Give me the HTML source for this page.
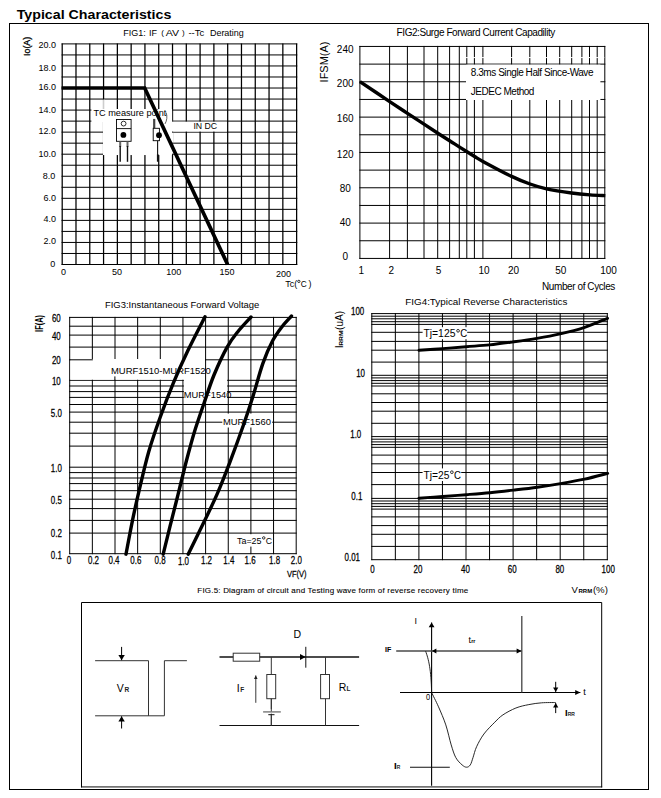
<!DOCTYPE html>
<html><head><meta charset="utf-8"><title>Typical Characteristics</title>
<style>
html,body{margin:0;padding:0;background:#fff;}
body{width:661px;height:798px;overflow:hidden;font-family:"Liberation Sans",sans-serif;}
svg{display:block;font-family:"Liberation Sans",sans-serif;}
</style></head><body>
<svg width="661" height="798" viewBox="0 0 661 798">
<rect x="0" y="0" width="661" height="798" fill="#fff"/>
<text transform="translate(16.70,18.80) scale(1.0467,1)" font-size="13.6" font-weight="bold" fill="#000">Typical Characteristics</text>
<rect x="9.50" y="23.50" width="639.00" height="766.00" fill="none" stroke="#000" stroke-width="1"/>
<path d="M62.20 43.40V265.00M75.99 43.40V265.00M89.78 43.40V265.00M103.57 43.40V265.00M117.36 43.40V265.00M131.15 43.40V265.00M144.94 43.40V265.00M158.73 43.40V265.00M172.52 43.40V265.00M186.31 43.40V265.00M200.10 43.40V265.00M213.89 43.40V265.00M227.68 43.40V265.00M241.47 43.40V265.00M255.26 43.40V265.00M269.05 43.40V265.00M282.84 43.40V265.00M296.63 43.40V265.00" stroke="#000" stroke-width="1.25" fill="none"/>
<path d="M61.58 43.90H297.25M61.58 54.93H297.25M61.58 65.96H297.25M61.58 76.99H297.25M61.58 88.02H297.25M61.58 99.05H297.25M61.58 110.08H297.25M61.58 121.11H297.25M61.58 132.14H297.25M61.58 143.17H297.25M61.58 154.20H297.25M61.58 165.23H297.25M61.58 176.26H297.25M61.58 187.29H297.25M61.58 198.32H297.25M61.58 209.35H297.25M61.58 220.38H297.25M61.58 231.41H297.25M61.58 242.44H297.25M61.58 253.47H297.25M61.58 264.50H297.25" stroke="#000" stroke-width="1.0" fill="none"/>
<rect x="91.40" y="109.00" width="80.70" height="13.05" fill="#fff" stroke="none" stroke-width="1"/>
<rect x="103.20" y="99.60" width="1.50" height="9.50" fill="#fff" stroke="none" stroke-width="1"/>
<rect x="103.00" y="111.00" width="69.10" height="44.05" fill="#fff" stroke="none" stroke-width="1"/>
<rect x="172.00" y="132.70" width="1.40" height="9.90" fill="#fff" stroke="none" stroke-width="1"/>
<rect x="172.00" y="143.70" width="1.40" height="10.00" fill="#fff" stroke="none" stroke-width="1"/>
<rect x="171.90" y="121.70" width="55.00" height="9.85" fill="#fff" stroke="none" stroke-width="1"/>
<rect x="116.50" y="119.50" width="14.60" height="21.80" fill="#fff" stroke="#000" stroke-width="0.9"/>
<line x1="116.50" y1="128.60" x2="131.10" y2="128.60" stroke="#000" stroke-width="0.9"/>
<circle cx="123.6" cy="123.6" r="2.4" fill="none" stroke="#000" stroke-width="0.8"/>
<circle cx="123.4" cy="134.9" r="2.9" fill="#000"/>
<line x1="120.20" y1="141.60" x2="120.20" y2="147.00" stroke="#666" stroke-width="2.0"/>
<line x1="127.50" y1="141.60" x2="127.50" y2="147.00" stroke="#666" stroke-width="2.0"/>
<line x1="120.20" y1="146.00" x2="120.20" y2="161.80" stroke="#111" stroke-width="1.4"/>
<line x1="127.50" y1="146.00" x2="127.50" y2="161.80" stroke="#111" stroke-width="1.4"/>
<line x1="154.20" y1="118.90" x2="154.20" y2="128.20" stroke="#444" stroke-width="2.2"/>
<rect x="153.20" y="128.30" width="6.20" height="12.40" fill="#fff" stroke="#000" stroke-width="0.9"/>
<circle cx="159.0" cy="135.2" r="2.9" fill="#000"/>
<line x1="157.60" y1="140.70" x2="157.60" y2="161.50" stroke="#111" stroke-width="1.1"/>
<line x1="157.80" y1="154.40" x2="157.80" y2="161.50" stroke="#111" stroke-width="1.8"/>
<path d="M166.2 112.6 C167.4 116.5 167.0 120.5 165.0 123.9" stroke="#222" stroke-width="0.7" fill="none"/>
<path d="M61.60 88.0 H144.7 L227.6 264.5" stroke="#000" stroke-width="3.7" fill="none" stroke-linejoin="miter" stroke-linecap="butt"/>
<text transform="translate(123.30,35.60) scale(1.0000,1)" font-size="9" fill="#000">FIG1:</text>
<text transform="translate(149.10,35.60) scale(1.0000,1)" font-size="9" fill="#000">IF</text>
<text transform="translate(161.20,35.20) scale(1.0000,1)" font-size="8" fill="#000">(</text>
<text transform="translate(165.70,35.60) scale(1.1817,1)" font-size="9" fill="#000">AV</text>
<text transform="translate(181.90,35.20) scale(1.0000,1)" font-size="8" fill="#000">)</text>
<text transform="translate(188.40,35.60) scale(1.0544,1)" font-size="9" fill="#000">--Tc</text>
<text transform="translate(209.90,35.60) scale(0.9994,1)" font-size="9" fill="#000">Derating</text>
<text transform="translate(29.60,56.00) rotate(-90) scale(0.9854,1)" font-size="9" stroke="#000" stroke-width="0.3" fill="#000">Io(A)</text>
<text transform="translate(38.59,47.80) scale(1.0000,1)" font-size="9" fill="#000">20.0</text>
<text transform="translate(38.59,70.80) scale(1.0000,1)" font-size="9" fill="#000">18.0</text>
<text transform="translate(38.59,89.60) scale(1.0000,1)" font-size="9" fill="#000">16.0</text>
<text transform="translate(38.59,112.90) scale(1.0000,1)" font-size="9" fill="#000">14.0</text>
<text transform="translate(38.59,134.00) scale(1.0000,1)" font-size="9" fill="#000">12.0</text>
<text transform="translate(38.59,156.50) scale(1.0000,1)" font-size="9" fill="#000">10.0</text>
<text transform="translate(42.79,178.80) scale(1.0000,1)" font-size="9" fill="#000">8.0</text>
<text transform="translate(43.59,200.60) scale(1.0000,1)" font-size="9" fill="#000">6.0</text>
<text transform="translate(43.59,222.40) scale(1.0000,1)" font-size="9" fill="#000">4.0</text>
<text transform="translate(43.59,243.80) scale(1.0000,1)" font-size="9" fill="#000">2.0</text>
<text transform="translate(50.30,266.50) scale(1.0000,1)" font-size="9" fill="#000">0</text>
<text transform="translate(61.10,274.80) scale(1.0000,1)" font-size="9" fill="#000">0</text>
<text transform="translate(112.00,274.80) scale(1.0000,1)" font-size="9" fill="#000">50</text>
<text transform="translate(166.19,274.80) scale(1.0000,1)" font-size="9" fill="#000">100</text>
<text transform="translate(219.49,274.80) scale(1.0000,1)" font-size="9" fill="#000">150</text>
<text transform="translate(275.99,277.00) scale(1.0000,1)" font-size="9" fill="#000">200</text>
<text transform="translate(285.20,286.80) scale(1.0000,1)" font-size="9" fill="#000">Tc(</text>
<circle cx="298.87" cy="281.40" r="1.17" fill="none" stroke="#000" stroke-width="0.8"/>
<text transform="translate(300.74,286.80) scale(0.9200,1)" font-size="9" fill="#000">C</text>
<text transform="translate(308.40,286.80) scale(1.0000,1)" font-size="9" fill="#000">)</text>
<text transform="translate(93.40,115.60) scale(1.0203,1)" font-size="9" fill="#000">TC measure point</text>
<text transform="translate(193.40,129.30) scale(0.9722,1)" font-size="9" fill="#000">IN DC</text>
<path d="M359.90 45.95V258.93M389.60 45.95V258.93M407.40 45.95V258.93M424.00 45.95V258.93M437.70 45.95V258.93M449.60 45.95V258.93M459.30 45.95V258.93M466.80 45.95V258.93M474.40 45.95V258.93M482.90 45.95V258.93M511.60 45.95V258.93M529.80 45.95V258.93M546.50 45.95V258.93M559.70 45.95V258.93M571.70 45.95V258.93M581.90 45.95V258.93M589.50 45.95V258.93M597.20 45.95V258.93M604.80 45.95V258.93" stroke="#000" stroke-width="1.0" fill="none"/>
<path d="M359.40 46.45H605.30M359.40 64.12H605.30M359.40 81.78H605.30M359.40 99.44H605.30M359.40 117.11H605.30M359.40 134.77H605.30M359.40 152.44H605.30M359.40 170.11H605.30M359.40 187.77H605.30M359.40 205.44H605.30M359.40 223.10H605.30M359.40 240.76H605.30M359.40 258.43H605.30" stroke="#000" stroke-width="1.0" fill="none"/>
<line x1="466.00" y1="57.60" x2="604.30" y2="57.60" stroke="#fff" stroke-width="1.0"/>
<rect x="466.00" y="64.60" width="134.40" height="35.40" fill="#fff" stroke="none" stroke-width="1"/>
<path d="M359.90 81.60C364.87 84.93 381.77 96.30 389.70 101.60C397.63 106.90 401.78 109.63 407.50 113.40C413.22 117.17 418.95 120.90 424.00 124.20C429.05 127.50 433.40 130.37 437.80 133.20C442.20 136.03 446.63 138.80 450.40 141.20C454.17 143.60 456.43 145.10 460.40 147.60C464.37 150.10 470.45 153.90 474.20 156.20C477.95 158.50 476.67 158.03 482.90 161.40C489.13 164.77 503.75 172.63 511.60 176.40C519.45 180.17 524.18 181.93 530.00 184.00C535.82 186.07 539.57 187.30 546.50 188.80C553.43 190.30 564.35 191.98 571.60 193.00C578.85 194.02 584.38 194.47 590.00 194.90C595.62 195.33 602.75 195.48 605.30 195.60" stroke="#000" stroke-width="3.4" fill="none" stroke-linecap="butt"/>
<text x="396.60" y="35.60" font-size="10" fill="#000" letter-spacing="-0.424">FIG2:Surge Forward Current Capadility</text>
<text transform="translate(327.60,82.40) rotate(-90) scale(1.0968,1)" font-size="10" fill="#000">IFSM(A)</text>
<text transform="translate(336.85,53.30) scale(1.0000,1)" font-size="10" fill="#000">240</text>
<text transform="translate(336.85,87.20) scale(1.0000,1)" font-size="10" fill="#000">200</text>
<text transform="translate(336.85,121.60) scale(1.0000,1)" font-size="10" fill="#000">160</text>
<text transform="translate(336.85,157.70) scale(1.0000,1)" font-size="10" fill="#000">120</text>
<text transform="translate(339.65,191.50) scale(1.0000,1)" font-size="10" fill="#000">80</text>
<text transform="translate(339.65,225.80) scale(1.0000,1)" font-size="10" fill="#000">40</text>
<text transform="translate(342.43,259.70) scale(1.0000,1)" font-size="10" fill="#000">0</text>
<text transform="translate(358.43,273.70) scale(1.0000,1)" font-size="10" fill="#000">1</text>
<text transform="translate(388.43,273.70) scale(1.0000,1)" font-size="10" fill="#000">2</text>
<text transform="translate(435.83,273.70) scale(1.0000,1)" font-size="10" fill="#000">5</text>
<text transform="translate(478.45,273.70) scale(1.0000,1)" font-size="10" fill="#000">10</text>
<text transform="translate(508.05,273.70) scale(1.0000,1)" font-size="10" fill="#000">20</text>
<text transform="translate(555.25,273.70) scale(1.0000,1)" font-size="10" fill="#000">50</text>
<text transform="translate(600.25,273.70) scale(1.0000,1)" font-size="10" fill="#000">100</text>
<text x="542.00" y="289.60" font-size="10" fill="#000" letter-spacing="-0.410">Number of Cycles</text>
<text x="470.80" y="76.30" font-size="10" fill="#000" letter-spacing="-0.444">8.3ms Single Half Since-Wave</text>
<text x="470.80" y="94.50" font-size="10" fill="#000" letter-spacing="-0.482">JEDEC Method</text>
<path d="M69.70 316.90V554.20M92.35 316.90V554.20M115.00 316.90V554.20M137.65 316.90V554.20M160.30 316.90V554.20M182.95 316.90V554.20M205.60 316.90V554.20M228.25 316.90V554.20M250.90 316.90V554.20M273.55 316.90V554.20M296.20 316.90V554.20" stroke="#000" stroke-width="1.0" fill="none"/>
<path d="M69.20 317.40H296.70M69.20 326.20H296.70M69.20 335.10H296.70M69.20 347.10H296.70M69.20 359.80H296.70M69.20 380.30H296.70M69.20 386.00H296.70M69.20 391.60H296.70M69.20 397.40H296.70M69.20 404.50H296.70M69.20 412.10H296.70M69.20 422.20H296.70M69.20 433.20H296.70M69.20 446.10H296.70M69.20 467.20H296.70M69.20 472.60H296.70M69.20 478.00H296.70M69.20 483.60H296.70M69.20 490.70H296.70M69.20 499.20H296.70M69.20 508.60H296.70M69.20 520.40H296.70M69.20 533.10H296.70M69.20 553.70H296.70" stroke="#000" stroke-width="1.0" fill="none"/>
<rect x="70.40" y="359.00" width="134.60" height="20.70" fill="#fff" stroke="none" stroke-width="1"/>
<line x1="69.70" y1="359.80" x2="92.85" y2="359.80" stroke="#000" stroke-width="1"/>
<rect x="183.90" y="379.00" width="43.20" height="21.80" fill="#fff" stroke="none" stroke-width="1"/>
<line x1="205.60" y1="379.00" x2="205.60" y2="401.00" stroke="#000" stroke-width="1"/>
<line x1="114.90" y1="376.40" x2="114.90" y2="380.00" stroke="#000" stroke-width="1"/>
<rect x="222.30" y="413.60" width="49.80" height="13.90" fill="#fff" stroke="none" stroke-width="1"/>
<rect x="235.40" y="534.20" width="37.60" height="12.40" fill="#fff" stroke="none" stroke-width="1"/>
<path d="M126.00 554.20C127.10 548.48 130.42 530.50 132.60 519.90C134.78 509.30 136.40 502.00 139.10 490.60C141.80 479.20 145.28 463.72 148.80 451.50C152.32 439.28 156.12 428.68 160.20 417.30C164.28 405.92 168.68 394.32 173.30 383.20C177.92 372.08 182.62 361.67 187.90 350.60C193.18 339.53 202.15 322.43 205.00 316.80" stroke="#000" stroke-width="3.4" fill="none" stroke-linecap="round"/>
<path d="M163.20 554.20C164.33 549.57 167.50 536.45 170.00 526.40C172.50 516.35 175.48 504.75 178.20 493.90C180.92 483.05 183.60 471.62 186.30 461.30C189.00 450.98 191.42 441.77 194.40 432.00C197.38 422.23 200.93 412.20 204.20 402.70C207.47 393.20 210.20 384.23 214.00 375.00C217.80 365.77 222.93 354.63 227.00 347.30C231.07 339.97 234.40 336.05 238.40 331.00C242.40 325.95 248.90 319.33 251.00 317.00" stroke="#000" stroke-width="3.4" fill="none" stroke-linecap="round"/>
<path d="M188.20 554.20C190.87 548.75 199.37 531.55 204.20 521.50C209.03 511.45 212.87 503.93 217.20 493.90C221.53 483.87 225.85 472.70 230.20 461.30C234.55 449.90 239.50 436.35 243.30 425.50C247.10 414.65 249.75 406.52 253.00 396.20C256.25 385.88 259.53 372.83 262.80 363.60C266.07 354.37 269.33 347.03 272.60 340.80C275.87 334.57 279.25 330.33 282.40 326.20C285.55 322.07 289.98 317.70 291.50 316.00" stroke="#000" stroke-width="3.4" fill="none" stroke-linecap="round"/>
<text transform="translate(104.90,307.50) scale(0.9956,1)" font-size="9.5" fill="#000">FIG3:Instantaneous Forward Voltage</text>
<text transform="translate(42.50,331.90) rotate(-90) scale(0.7117,1)" font-size="10.5" font-weight="bold" fill="#000">IF(A)</text>
<text transform="translate(51.88,322.10) scale(0.7800,1)" font-size="10.2" fill="#000" stroke="#000" stroke-width="0.25">60</text>
<text transform="translate(51.88,340.10) scale(0.7800,1)" font-size="10.2" fill="#000" stroke="#000" stroke-width="0.25">40</text>
<text transform="translate(51.88,364.30) scale(0.7800,1)" font-size="10.2" fill="#000" stroke="#000" stroke-width="0.25">20</text>
<text transform="translate(51.88,384.80) scale(0.7800,1)" font-size="10.2" fill="#000" stroke="#000" stroke-width="0.25">10</text>
<text transform="translate(50.87,471.90) scale(0.7800,1)" font-size="10.2" fill="#000" stroke="#000" stroke-width="0.25">1.0</text>
<text transform="translate(50.87,503.70) scale(0.7800,1)" font-size="10.2" fill="#000" stroke="#000" stroke-width="0.25">0.5</text>
<text transform="translate(50.87,536.90) scale(0.7800,1)" font-size="10.2" fill="#000" stroke="#000" stroke-width="0.25">0.2</text>
<text transform="translate(50.87,558.60) scale(0.7800,1)" font-size="10.2" fill="#000" stroke="#000" stroke-width="0.25">0.1</text>
<text transform="translate(50.87,416.60) scale(0.7800,1)" font-size="10.2" fill="#000" stroke="#000" stroke-width="0.25">5.0</text>
<text transform="translate(66.79,564.30) scale(0.7800,1)" font-size="10.2" fill="#000" stroke="#000" stroke-width="0.25">0</text>
<text transform="translate(87.97,564.30) scale(0.7800,1)" font-size="10.2" fill="#000" stroke="#000" stroke-width="0.25">0.2</text>
<text transform="translate(108.47,564.30) scale(0.7800,1)" font-size="10.2" fill="#000" stroke="#000" stroke-width="0.25">0.4</text>
<text transform="translate(130.37,564.30) scale(0.7800,1)" font-size="10.2" fill="#000" stroke="#000" stroke-width="0.25">0.6</text>
<text transform="translate(154.57,564.30) scale(0.7800,1)" font-size="10.2" fill="#000" stroke="#000" stroke-width="0.25">0.8</text>
<text transform="translate(177.97,565.00) scale(0.7800,1)" font-size="10.2" fill="#000" stroke="#000" stroke-width="0.25">1.0</text>
<text transform="translate(200.97,564.30) scale(0.7800,1)" font-size="10.2" fill="#000" stroke="#000" stroke-width="0.25">1.2</text>
<text transform="translate(223.37,564.30) scale(0.7800,1)" font-size="10.2" fill="#000" stroke="#000" stroke-width="0.25">1.4</text>
<text transform="translate(244.57,564.30) scale(0.7800,1)" font-size="10.2" fill="#000" stroke="#000" stroke-width="0.25">1.6</text>
<text transform="translate(269.07,564.30) scale(0.7800,1)" font-size="10.2" fill="#000" stroke="#000" stroke-width="0.25">1.8</text>
<text transform="translate(290.77,564.30) scale(0.7800,1)" font-size="10.2" fill="#000" stroke="#000" stroke-width="0.25">2.0</text>
<text transform="translate(286.90,577.30) scale(0.7945,1)" font-size="9.5" fill="#000" stroke="#000" stroke-width="0.25">VF(V)</text>
<text transform="translate(111.00,373.80) scale(0.9968,1)" font-size="9.5" fill="#000">MURF1510-MURF1520</text>
<text transform="translate(183.80,397.60) scale(0.9816,1)" font-size="9.5" fill="#000">MURF1540</text>
<text transform="translate(222.90,424.50) scale(0.9878,1)" font-size="9.5" fill="#000">MURF1560</text>
<text transform="translate(237.00,543.60) scale(0.9361,1)" font-size="9.5" fill="#000">Ta=25</text>
<circle cx="263.74" cy="537.90" r="1.24" fill="none" stroke="#000" stroke-width="0.8"/>
<text transform="translate(265.67,543.60) scale(0.9200,1)" font-size="9.5" fill="#000">C</text>
<path d="M371.80 313.10V560.20M395.35 313.10V560.20M418.90 313.10V560.20M442.45 313.10V560.20M466.00 313.10V560.20M489.55 313.10V560.20M513.10 313.10V560.20M536.65 313.10V560.20M560.20 313.10V560.20M583.75 313.10V560.20M607.30 313.10V560.20" stroke="#000" stroke-width="1.0" fill="none"/>
<path d="M371.30 313.60H607.80M371.30 316.20H607.80M371.30 318.80H607.80M371.30 321.70H607.80M371.30 324.40H607.80M371.30 332.30H607.80M371.30 341.40H607.80M371.30 350.20H607.80M371.30 362.10H607.80M371.30 375.30H607.80M371.30 377.90H607.80M371.30 380.60H607.80M371.30 383.30H607.80M371.30 386.00H607.80M371.30 393.80H607.80M371.30 402.50H607.80M371.30 411.20H607.80M371.30 423.30H607.80M371.30 436.60H607.80M371.30 439.20H607.80M371.30 441.90H607.80M371.30 444.60H607.80M371.30 447.30H607.80M371.30 455.10H607.80M371.30 463.80H607.80M371.30 472.50H607.80M371.30 484.60H607.80M371.30 498.40H607.80M371.30 501.00H607.80M371.30 503.70H607.80M371.30 506.40H607.80M371.30 509.10H607.80M371.30 516.90H607.80M371.30 525.60H607.80M371.30 534.30H607.80M371.30 546.40H607.80M371.30 559.70H607.80" stroke="#000" stroke-width="1.0" fill="none"/>
<rect x="422.60" y="327.20" width="44.60" height="12.00" fill="#fff" stroke="none" stroke-width="1"/>
<rect x="422.60" y="468.40" width="38.60" height="12.60" fill="#fff" stroke="none" stroke-width="1"/>
<path d="M419.00 350.30C422.95 350.02 434.82 349.20 442.70 348.60C450.58 348.00 458.50 347.32 466.30 346.70C474.10 346.08 481.70 345.70 489.50 344.90C497.30 344.10 505.20 342.98 513.10 341.90C521.00 340.82 529.05 339.73 536.90 338.40C544.75 337.07 552.35 335.70 560.20 333.90C568.05 332.10 576.12 330.20 584.00 327.60C591.88 325.00 603.58 319.85 607.50 318.30" stroke="#000" stroke-width="2.9" fill="none" stroke-linecap="round"/>
<path d="M418.90 498.30C422.88 498.00 434.88 497.10 442.80 496.50C450.72 495.90 458.53 495.33 466.40 494.70C474.27 494.07 482.12 493.47 490.00 492.70C497.88 491.93 505.82 491.02 513.70 490.10C521.58 489.18 529.50 488.28 537.30 487.20C545.10 486.12 552.63 484.93 560.50 483.60C568.37 482.27 576.63 480.90 584.50 479.20C592.37 477.50 603.83 474.37 607.70 473.40" stroke="#000" stroke-width="2.9" fill="none" stroke-linecap="round"/>
<text transform="translate(405.30,304.50) scale(1.0357,1)" font-size="9.5" fill="#000">FIG4:Typical Reverse Characteristics</text>
<text transform="translate(351.01,314.80) scale(0.7800,1)" font-size="10.2" fill="#000" stroke="#000" stroke-width="0.25">100</text>
<text transform="translate(356.17,376.90) scale(0.7800,1)" font-size="10.2" fill="#000" stroke="#000" stroke-width="0.25">10</text>
<text transform="translate(350.24,437.80) scale(0.7800,1)" font-size="10.2" fill="#000" stroke="#000" stroke-width="0.25">1.0</text>
<text transform="translate(351.34,500.00) scale(0.7800,1)" font-size="10.2" fill="#000" stroke="#000" stroke-width="0.25">0.1</text>
<text transform="translate(344.53,560.90) scale(0.7800,1)" font-size="10.2" fill="#000" stroke="#000" stroke-width="0.25">0.01</text>
<text transform="translate(370.29,573.40) scale(0.7800,1)" font-size="10.2" fill="#000" stroke="#000" stroke-width="0.25">0</text>
<text transform="translate(413.58,573.40) scale(0.7800,1)" font-size="10.2" fill="#000" stroke="#000" stroke-width="0.25">20</text>
<text transform="translate(460.98,573.40) scale(0.7800,1)" font-size="10.2" fill="#000" stroke="#000" stroke-width="0.25">40</text>
<text transform="translate(507.78,573.40) scale(0.7800,1)" font-size="10.2" fill="#000" stroke="#000" stroke-width="0.25">60</text>
<text transform="translate(555.38,573.40) scale(0.7800,1)" font-size="10.2" fill="#000" stroke="#000" stroke-width="0.25">80</text>
<text transform="translate(601.56,573.40) scale(0.7800,1)" font-size="10.2" fill="#000" stroke="#000" stroke-width="0.25">100</text>
<text transform="translate(342.80,348.20) rotate(-90) scale(1.0000,1)" font-size="10.7" fill="#000">I</text>
<text transform="translate(342.80,345.80) rotate(-90) scale(1.1282,1)" font-size="6" font-weight="bold" fill="#000">RRM</text>
<text transform="translate(342.80,329.90) rotate(-90) scale(0.9524,1)" font-size="10.5" fill="#000">(uA)</text>
<text transform="translate(423.40,337.10) scale(0.9910,1)" font-size="10.5" fill="#000">Tj=125</text>
<circle cx="458.06" cy="330.80" r="1.36" fill="none" stroke="#000" stroke-width="0.8"/>
<text transform="translate(460.13,337.10) scale(0.9200,1)" font-size="10.5" fill="#000">C</text>
<text transform="translate(423.40,478.50) scale(0.9787,1)" font-size="10.5" fill="#000">Tj=25</text>
<circle cx="451.87" cy="472.20" r="1.36" fill="none" stroke="#000" stroke-width="0.8"/>
<text transform="translate(453.93,478.50) scale(0.9200,1)" font-size="10.5" fill="#000">C</text>
<text transform="translate(571.40,592.50) scale(1.0000,1)" font-size="9.5" fill="#000">V</text>
<text transform="translate(578.50,592.50) scale(0.9713,1)" font-size="6.2" font-weight="bold" fill="#000">RRM</text>
<text transform="translate(592.90,592.50) scale(1.0154,1)" font-size="9.5" fill="#000">(%)</text>
<text x="197.30" y="593.00" font-size="8" fill="#000" letter-spacing="0.198" stroke="#000" stroke-width="0.1">FIG.5: Diagram of circuit and Testing wave form of reverse recovery time</text>
<line x1="81.00" y1="786.80" x2="602.20" y2="786.80" stroke="#747474" stroke-width="1.8"/>
<path d="M81.5 787.4V602.5H601.7V787.4" stroke="#000" stroke-width="1.0" fill="none"/>
<path d="M95.1 660.7H148.5V715.8M95.1 715.8H164.4V660.7H186.9" stroke="#333" stroke-width="1.0" fill="none"/>
<line x1="121.60" y1="646.90" x2="121.60" y2="660.20" stroke="#000" stroke-width="1.0"/>
<path d="M118.40 654.90L124.80 654.90L121.60 660.20Z" fill="#000"/>
<line x1="121.60" y1="728.50" x2="121.60" y2="716.30" stroke="#000" stroke-width="1.0"/>
<path d="M118.40 721.60L124.80 721.60L121.60 716.30Z" fill="#000"/>
<text transform="translate(116.80,691.60) scale(1.0000,1)" font-size="10.5" fill="#000">V</text>
<text transform="translate(124.60,691.60) scale(1.0000,1)" font-size="6.5" font-weight="bold" fill="#222">R</text>
<line x1="219.50" y1="657.00" x2="359.10" y2="657.00" stroke="#111" stroke-width="1.4"/>
<line x1="219.50" y1="725.50" x2="359.10" y2="725.50" stroke="#111" stroke-width="1.2"/>
<rect x="233.20" y="653.20" width="26.50" height="8.00" fill="#fff" stroke="#333" stroke-width="1"/>
<line x1="271.30" y1="657.00" x2="271.30" y2="725.50" stroke="#333" stroke-width="1.0"/>
<rect x="266.80" y="674.50" width="8.90" height="24.20" fill="#fff" stroke="#333" stroke-width="1"/>
<rect x="262.00" y="709.00" width="20.00" height="4.60" fill="#fff" stroke="none" stroke-width="1"/>
<line x1="271.30" y1="698.70" x2="271.30" y2="711.90" stroke="#333" stroke-width="1.0"/>
<line x1="263.10" y1="711.90" x2="280.80" y2="711.90" stroke="#777" stroke-width="1.4"/>
<line x1="268.30" y1="714.70" x2="274.50" y2="714.70" stroke="#111" stroke-width="1.0"/>
<line x1="271.30" y1="714.70" x2="271.30" y2="725.50" stroke="#333" stroke-width="1.0"/>
<line x1="325.50" y1="657.00" x2="325.50" y2="725.50" stroke="#333" stroke-width="1.0"/>
<rect x="320.60" y="674.50" width="8.90" height="24.20" fill="#fff" stroke="#333" stroke-width="1"/>
<line x1="305.80" y1="646.80" x2="305.80" y2="667.70" stroke="#111" stroke-width="1.0"/>
<path d="M300.0 654.0L300.0 660.0L305.6 657.0Z" fill="#000"/>
<line x1="255.80" y1="702.80" x2="255.80" y2="675.40" stroke="#222" stroke-width="0.9"/>
<path d="M254.00 679.00L257.60 679.00L255.80 675.40Z" fill="#222"/>
<text transform="translate(293.40,637.70) scale(1.0000,1)" font-size="10.5" fill="#000">D</text>
<text transform="translate(236.80,691.60) scale(1.0000,1)" font-size="10.5" fill="#000">I</text>
<text transform="translate(240.20,691.60) scale(1.0000,1)" font-size="6.5" font-weight="bold" fill="#222">F</text>
<text transform="translate(338.80,690.80) scale(1.0000,1)" font-size="10.5" fill="#000">R</text>
<text transform="translate(346.60,690.80) scale(1.0000,1)" font-size="6.5" font-weight="bold" fill="#222">L</text>
<line x1="431.60" y1="785.80" x2="431.60" y2="622.60" stroke="#000" stroke-width="1.1"/>
<path d="M428.70 627.20L434.50 627.20L431.60 622.60Z" fill="#000"/>
<line x1="400.00" y1="692.50" x2="580.40" y2="692.50" stroke="#000" stroke-width="1.1"/>
<path d="M575.20 690.00L575.20 695.00L580.40 692.50Z" fill="#000"/>
<line x1="396.20" y1="651.00" x2="521.80" y2="651.00" stroke="#4a4a4a" stroke-width="1.5"/>
<path d="M432.0 651.0L436.4 648.5L436.4 653.5Z" fill="#000"/>
<path d="M521.6 651.0L516.6 648.5L516.6 653.5Z" fill="#000"/>
<line x1="521.80" y1="616.10" x2="521.80" y2="692.50" stroke="#444" stroke-width="1.3"/>
<line x1="410.00" y1="767.30" x2="449.80" y2="767.30" stroke="#111" stroke-width="1.1"/>
<path d="M425.6 651.2C428.6 659 431.2 670 431.6 692.5" stroke="#111" stroke-width="0.9" fill="none"/>
<path d="M431.60 692.60C432.75 694.97 436.13 701.42 438.50 706.80C440.87 712.18 443.68 718.55 445.80 724.90C447.92 731.25 449.53 739.45 451.20 744.90C452.87 750.35 453.98 754.27 455.80 757.60C457.62 760.93 460.30 763.30 462.10 764.90C463.90 766.50 465.23 767.20 466.60 767.20C467.97 767.20 469.23 766.50 470.30 764.90C471.37 763.30 471.95 760.63 473.00 757.60C474.05 754.57 474.78 750.63 476.60 746.70C478.42 742.77 480.87 738.08 483.90 734.00C486.93 729.92 491.63 725.38 494.80 722.20C497.97 719.02 499.38 717.27 502.90 714.90C506.42 712.53 511.58 709.72 515.90 708.00C520.22 706.28 524.50 705.47 528.80 704.60C533.10 703.73 537.22 703.15 541.70 702.80C546.18 702.45 553.37 702.55 555.70 702.50" stroke="#111" stroke-width="0.9" fill="none"/>
<line x1="555.70" y1="681.80" x2="555.70" y2="691.90" stroke="#000" stroke-width="1.0"/>
<path d="M553.10 687.50L558.30 687.50L555.70 691.90Z" fill="#000"/>
<line x1="555.70" y1="713.10" x2="555.70" y2="703.00" stroke="#000" stroke-width="1.0"/>
<path d="M553.10 707.40L558.30 707.40L555.70 703.00Z" fill="#000"/>
<text transform="translate(414.40,623.70) scale(1.0000,1)" font-size="9" fill="#000">I</text>
<text transform="translate(385.00,651.90) scale(1.0725,1)" font-size="6.6" font-weight="bold" fill="#000">IF</text>
<text transform="translate(425.90,699.70) scale(0.9009,1)" font-size="8.2" fill="#000">0</text>
<text transform="translate(468.60,642.70) scale(1.0000,1)" font-size="9" fill="#000">t</text>
<text transform="translate(471.20,642.70) scale(0.9790,1)" font-size="5.5" font-weight="bold" fill="#000">rr</text>
<text transform="translate(583.20,695.20) scale(1.0000,1)" font-size="9" fill="#000">t</text>
<text transform="translate(393.90,769.00) scale(1.0000,1)" font-size="9.8" font-weight="bold" fill="#000">I</text>
<text transform="translate(396.80,769.00) scale(0.8681,1)" font-size="5.6" fill="#000" stroke="#000" stroke-width="0.15">R</text>
<text transform="translate(565.00,715.80) scale(1.0000,1)" font-size="9.4" font-weight="bold" fill="#000">I</text>
<text transform="translate(567.70,715.80) scale(0.8774,1)" font-size="5.6" fill="#000" stroke="#000" stroke-width="0.15">RR</text>
</svg>
</body></html>
